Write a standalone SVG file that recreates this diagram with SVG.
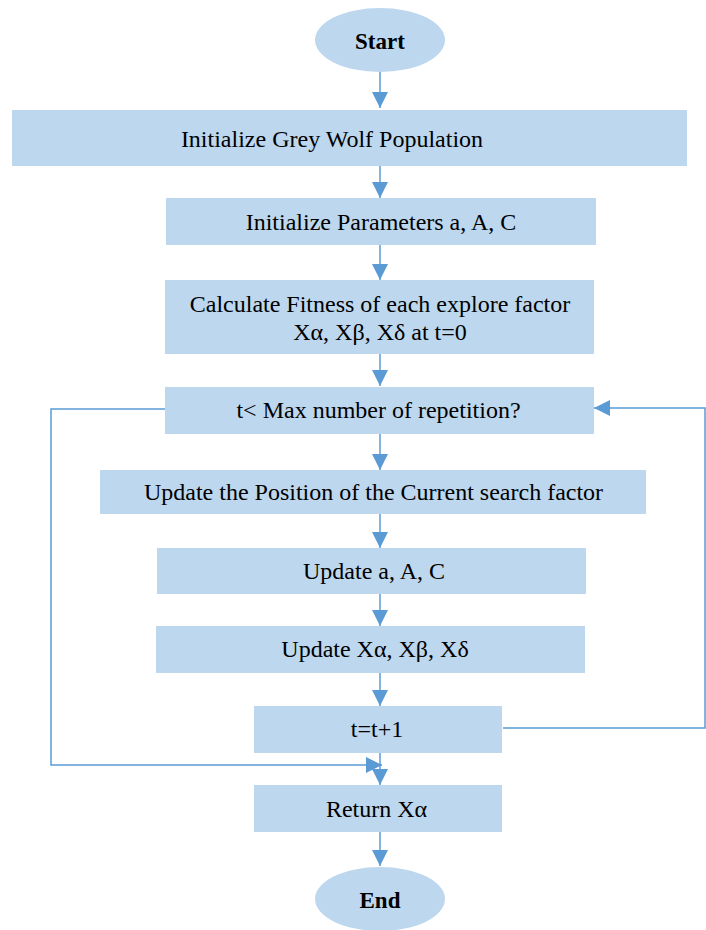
<svg xmlns="http://www.w3.org/2000/svg" width="706" height="930" viewBox="0 0 706 930">
<style>
.n{fill:#BDD7EE;stroke:none}
.t{font-family:"Liberation Serif","Times New Roman",serif;font-size:24px;fill:#000;text-anchor:middle;dominant-baseline:central}
.b{font-weight:bold;font-size:23px}
.c{fill:none;stroke:#5B9BD5;stroke-width:1.5}
</style>
<defs>
<marker id="ah" markerUnits="userSpaceOnUse" markerWidth="16" markerHeight="16" viewBox="0 0 14 14" refX="14" refY="7" orient="auto">
<path d="M0,0 L14,7 L0,14 Z" fill="#5B9BD5"/>
</marker>
</defs>
<rect width="706" height="930" fill="#fff"/>
<g id="connectors">
<line class="c" x1="380" y1="72" x2="380" y2="108" marker-end="url(#ah)"/>
<line class="c" x1="380" y1="166" x2="380" y2="198" marker-end="url(#ah)"/>
<line class="c" x1="380" y1="245" x2="380" y2="280" marker-end="url(#ah)"/>
<line class="c" x1="380" y1="354" x2="380" y2="386" marker-end="url(#ah)"/>
<line class="c" x1="380" y1="434" x2="380" y2="470" marker-end="url(#ah)"/>
<line class="c" x1="380" y1="514" x2="380" y2="548" marker-end="url(#ah)"/>
<line class="c" x1="380" y1="594" x2="380" y2="626" marker-end="url(#ah)"/>
<line class="c" x1="380" y1="673" x2="380" y2="706" marker-end="url(#ah)"/>
<line class="c" x1="380" y1="753" x2="380" y2="785" marker-end="url(#ah)"/>
<line class="c" x1="380" y1="832" x2="380" y2="866" marker-end="url(#ah)"/>
<polyline class="c" points="503,728 705,728 705,408 594,408" marker-end="url(#ah)"/>
<polyline class="c" points="165,409 51,409 51,765 382,765" marker-end="url(#ah)"/>
</g>
<g id="start"><ellipse class="n" cx="380" cy="40" rx="65" ry="32"/><text class="t b" x="380" y="41">Start</text></g>
<g id="init-pop"><rect class="n" x="12" y="110" width="675" height="56"/><text class="t" x="332" y="139">Initialize Grey Wolf Population</text></g>
<g id="init-param"><rect class="n" x="166" y="198" width="430" height="47"/><text class="t" x="381" y="222">Initialize Parameters a, A, C</text></g>
<g id="fitness"><rect class="n" x="165" y="280" width="429" height="74"/><text class="t" x="380" y="304">Calculate Fitness of each explore factor</text><text class="t" x="380" y="332">Xα, Xβ, Xδ at t=0</text></g>
<g id="condition"><rect class="n" x="165" y="387" width="429" height="47"/><text class="t" x="378.5" y="410">t&lt; Max number of repetition?</text></g>
<g id="update-pos"><rect class="n" x="100" y="470" width="546" height="44"/><text class="t" x="373.5" y="492">Update the Position of the Current search factor</text></g>
<g id="update-aac"><rect class="n" x="157" y="548" width="429" height="46"/><text class="t" x="374" y="571">Update a, A, C</text></g>
<g id="update-x"><rect class="n" x="156" y="626" width="429" height="47"/><text class="t" x="375" y="649">Update Xα, Xβ, Xδ</text></g>
<g id="increment"><rect class="n" x="254" y="706" width="248" height="47"/><text class="t" x="377" y="729">t=t+1</text></g>
<g id="return"><rect class="n" x="254" y="785" width="248" height="47"/><text class="t" x="376.5" y="809">Return Xα</text></g>
<g id="end"><ellipse class="n" cx="380" cy="899" rx="65" ry="32"/><text class="t b" x="380" y="900">End</text></g>
</svg>
